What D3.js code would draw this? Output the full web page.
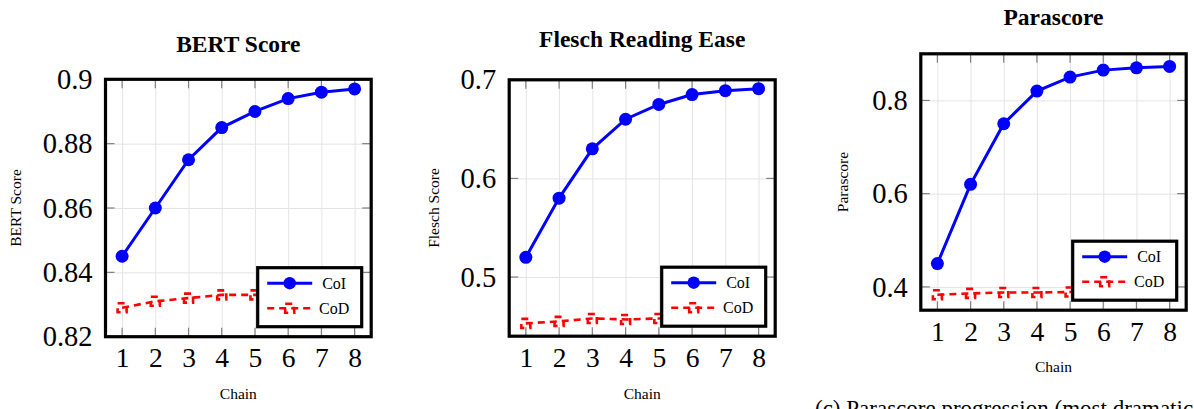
<!DOCTYPE html>
<html>
<head>
<meta charset="utf-8">
<script src="https://cdn.jsdelivr.net/npm/d3@7"></script>
<style>
  html, body { margin: 0; padding: 0; background: #fff; }
  svg { display: block; }
</style>
</head>
<body>
<svg id="fig" width="1194" height="409" font-family="Liberation Serif, Times New Roman, serif"></svg>
<script>
// Chain steps shared by all three panels
const chains = [1, 2, 3, 4, 5, 6, 7, 8];

// BERT Score
const bertCoI = [0.845, 0.860, 0.875, 0.885, 0.890, 0.894, 0.896, 0.897];
const bertCoD = [0.829, 0.831, 0.832, 0.833, 0.833, 0.834, 0.834, 0.835];
const bertTicks = [0.82, 0.84, 0.86, 0.88, 0.9];
const bertTickLabels = ["0.82", "0.84", "0.86", "0.88", "0.9"];

// Flesch Reading Ease
const fleschCoI = [0.52, 0.58, 0.63, 0.66, 0.675, 0.685, 0.689, 0.691];
const fleschCoD = [0.453, 0.455, 0.458, 0.457, 0.458, 0.459, 0.460, 0.461];
const fleschTicks = [0.5, 0.6, 0.7];
const fleschTickLabels = ["0.5", "0.6", "0.7"];

// Parascore
const paraCoI = [0.45, 0.62, 0.75, 0.82, 0.85, 0.865, 0.87, 0.873];
const paraCoD = [0.383, 0.386, 0.388, 0.388, 0.389, 0.390, 0.391, 0.392];
const paraTicks = [0.4, 0.6, 0.8];
const paraTickLabels = ["0.4", "0.6", "0.8"];

const seriesNames = ["CoI", "CoD"];

const panels = [
  { title: "BERT Score", ylabel: "BERT Score", coi: bertCoI, cod: bertCoD,
    ticks: bertTicks, tickLabels: bertTickLabels, yDomain: [0.82, 0.9],
    box: { x0: 105.5, x1: 371.2, y0: 79.3, y1: 336.7 },
    titleY: 52, ylabelX: 20.5, xlabelY: 399 },
  { title: "Flesch Reading Ease", ylabel: "Flesch Score", coi: fleschCoI, cod: fleschCoD,
    ticks: fleschTicks, tickLabels: fleschTickLabels, yDomain: [0.44, 0.7],
    box: { x0: 509.2, x1: 775.2, y0: 79.8, y1: 336.2 },
    titleY: 47, ylabelX: 438.5, xlabelY: 399 },
  { title: "Parascore", ylabel: "Parascore", coi: paraCoI, cod: paraCoD,
    ticks: paraTicks, tickLabels: paraTickLabels, yDomain: [0.35, 0.9],
    box: { x0: 920.8, x1: 1186.2, y0: 53.8, y1: 310.2 },
    titleY: 25, ylabelX: 848, xlabelY: 372 }
];

const FONT = "Liberation Serif, Times New Roman, serif";
const BLUE = "#0000ff", RED = "#ff0000";
const DASH = "7,5";
const svg = d3.select("#fig");

function squarePath(cx, cy, s) {
  const h = s / 2;
  return `M${cx - h},${cy - h}H${cx + h}V${cy + h}H${cx - h}Z`;
}

panels.forEach(p => {
  const b = p.box;
  const w = b.x1 - b.x0, h = b.y1 - b.y0;
  const x = d3.scaleLinear().domain([0.5, 8.5]).range([b.x0, b.x1]);
  const y = d3.scaleLinear().domain(p.yDomain).range([b.y1, b.y0]);
  const g = svg.append("g").attr("font-family", FONT);

  // grid
  const gx = g.append("g").attr("transform", `translate(0,${b.y1})`)
    .call(d3.axisBottom(x).tickValues(chains).tickSize(-h).tickFormat(""));
  gx.select(".domain").remove();
  gx.selectAll("line").attr("stroke", "#e4e4e4").attr("stroke-width", 1);
  const gy = g.append("g").attr("transform", `translate(${b.x0},0)`)
    .call(d3.axisLeft(y).tickValues(p.ticks).tickSize(-w).tickFormat(""));
  gy.select(".domain").remove();
  gy.selectAll("line").attr("stroke", "#e4e4e4").attr("stroke-width", 1);

  // inner tick marks on all four sides
  const TL = 9;
  const tickG = g.append("g").attr("stroke", "#808080").attr("stroke-width", 1.2);
  chains.forEach(c => {
    tickG.append("line").attr("x1", x(c)).attr("x2", x(c)).attr("y1", b.y1).attr("y2", b.y1 - TL);
    tickG.append("line").attr("x1", x(c)).attr("x2", x(c)).attr("y1", b.y0).attr("y2", b.y0 + TL);
  });
  p.ticks.forEach(t => {
    tickG.append("line").attr("y1", y(t)).attr("y2", y(t)).attr("x1", b.x0).attr("x2", b.x0 + TL);
    tickG.append("line").attr("y1", y(t)).attr("y2", y(t)).attr("x1", b.x1).attr("x2", b.x1 - TL);
  });

  // tick labels
  const ax = g.append("g").attr("transform", `translate(0,${b.y1})`)
    .call(d3.axisBottom(x).tickValues(chains).tickSize(0).tickPadding(11).tickFormat(d3.format("d")))
    .attr("font-family", FONT).attr("font-size", 27.5);
  ax.select(".domain").remove();
  ax.selectAll("text").attr("font-family", FONT).attr("font-size", 27.5);
  const ay = g.append("g").attr("transform", `translate(${b.x0},0)`)
    .call(d3.axisLeft(y).tickValues(p.ticks).tickSize(0).tickPadding(13)
      .tickFormat((d, i) => p.tickLabels[i]))
    .attr("font-family", FONT).attr("font-size", 28.5);
  ay.select(".domain").remove();
  ay.selectAll("text").attr("font-family", FONT).attr("font-size", 28.5);

  // CoD series: dashed line with dashed square markers
  const line = d3.line().x((d, i) => x(chains[i])).y(d => y(d));
  g.append("path").datum(p.cod).attr("d", line).attr("fill", "none")
    .attr("stroke", RED).attr("stroke-width", 2.6).attr("stroke-dasharray", DASH);
  g.append("g").selectAll("path").data(p.cod).join("path")
    .attr("d", (d, i) => squarePath(x(chains[i]), y(d), 9))
    .attr("fill", "none").attr("stroke", RED).attr("stroke-width", 2.6)
    .attr("stroke-dasharray", DASH);

  // CoI series: solid line with filled circles
  g.append("path").datum(p.coi).attr("d", line).attr("fill", "none")
    .attr("stroke", BLUE).attr("stroke-width", 3);
  g.append("g").selectAll("circle").data(p.coi).join("circle")
    .attr("cx", (d, i) => x(chains[i])).attr("cy", d => y(d)).attr("r", 6.5)
    .attr("fill", BLUE);

  // frame
  g.append("rect").attr("x", b.x0).attr("y", b.y0).attr("width", w).attr("height", h)
    .attr("fill", "none").attr("stroke", "#000").attr("stroke-width", 3.2);

  // legend
  const lw = 104, lh = 59;
  const lx = b.x1 - 9.5 - lw, ly = b.y1 - 10 - lh;
  const lg = g.append("g").attr("transform", `translate(${lx},${ly})`);
  lg.append("rect").attr("width", lw).attr("height", lh).attr("fill", "#fff")
    .attr("stroke", "#000").attr("stroke-width", 3.2);
  const r1 = 15.5, r2 = 40.5;
  lg.append("line").attr("x1", 9.5).attr("x2", 54.5).attr("y1", r1).attr("y2", r1)
    .attr("stroke", BLUE).attr("stroke-width", 3);
  lg.append("circle").attr("cx", 32).attr("cy", r1).attr("r", 6.2).attr("fill", BLUE);
  lg.append("line").attr("x1", 9.5).attr("x2", 54.5).attr("y1", r2).attr("y2", r2)
    .attr("stroke", RED).attr("stroke-width", 2.6).attr("stroke-dasharray", DASH);
  lg.append("path").attr("d", squarePath(32, r2, 9)).attr("fill", "none")
    .attr("stroke", RED).attr("stroke-width", 2.6).attr("stroke-dasharray", DASH);
  lg.selectAll("text.lbl").data(seriesNames).join("text").attr("class", "lbl")
    .attr("x", 76.5).attr("y", (d, i) => (i === 0 ? r1 : r2))
    .attr("dy", "0.35em").attr("text-anchor", "middle").attr("font-size", 16).text(d => d);

  // titles and axis labels
  const cx = (b.x0 + b.x1) / 2;
  g.append("text").attr("x", cx).attr("y", p.titleY).attr("text-anchor", "middle")
    .attr("font-size", 23.5).attr("font-weight", "bold").text(p.title);
  g.append("text").attr("transform", `translate(${p.ylabelX},${(b.y0 + b.y1) / 2}) rotate(-90)`)
    .attr("text-anchor", "middle").attr("font-size", 15.5).text(p.ylabel);
  g.append("text").attr("x", cx).attr("y", p.xlabelY).attr("text-anchor", "middle")
    .attr("font-size", 15.5).text("Chain");
});

// sub-figure caption below the right panel, running past the bottom edge
svg.append("text").attr("x", 815).attr("y", 416).attr("font-size", 23)
  .text("(c) Parascore progression (most dramatic improvement)");
</script>
</body>
</html>
